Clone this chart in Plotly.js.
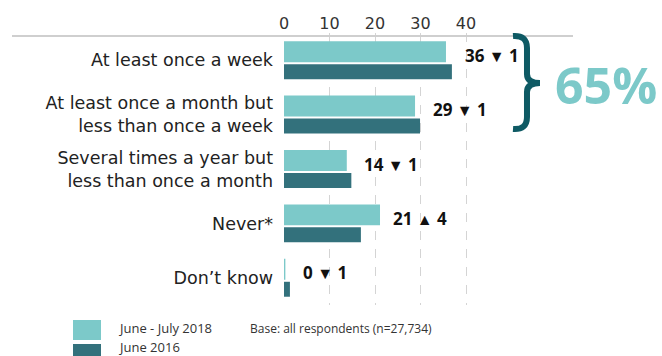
<!DOCTYPE html>
<html><head><meta charset="utf-8">
<script src="https://cdn.plot.ly/plotly-3.0.1.min.js"></script>
<style>html,body{margin:0;padding:0;background:#fff;}#chart{width:662px;height:356px;}</style>
</head><body><div id="chart"></div>
<script>
const categories = ["At least once a week", "At least once a month but<br>less than once a week", "Several times a year but<br>less than once a month", "Never*", "Don’t know"];
const values2018 = [35.6, 28.8, 13.8, 21.1, 0.3];
const values2016 = [36.9, 29.9, 14.8, 16.9, 1.3];
const labelValues = [36, 29, 14, 21, 0];
const changeDir = ["down", "down", "down", "up", "down"];
const changeValues = [1, 1, 1, 4, 1];
const tickValues = [0, 10, 20, 30, 40];
const seriesNames = ["June - July 2018", "June 2016"];
const baseNote = "Base: all respondents (n=27,734)";
const totalLabel = "65%";

const W = 662, H = 356;
const L = 284, R = 573, T = 33, B = 305;
const px = x => (x - L) / (R - L);
const py = y => (B - y) / (B - T);
const LIGHT = "#7cc9c9", DARK = "#33717c", BRACE = "#0e5a64";
const FONT = "Open Sans, sans-serif";
const CATFONT = "DejaVu Sans, sans-serif";

const traces = [
  {type: "bar", orientation: "h", name: seriesNames[0], y: categories, x: values2018,
   marker: {color: LIGHT}, width: categories.map(() => 0.385), offset: categories.map(() => -0.349),
   hoverinfo: "skip"},
  {type: "bar", orientation: "h", name: seriesNames[1], y: categories, x: values2016,
   marker: {color: DARK}, width: categories.map(() => 0.275), offset: categories.map(() => 0.073),
   hoverinfo: "skip"}
];

const annotations = categories.map((c, i) => ({
  x: Math.max(values2018[i], values2016[i]), y: c, xref: "x", yref: "y",
  xanchor: "left", yanchor: "middle", xshift: 11, yshift: 5, showarrow: false,
  text: "<b>" + labelValues[i] + " <span style='font-size:16px'>" + (changeDir[i] === "up" ? "▲" : "▼") + "</span> " + changeValues[i] + "</b>",
  font: {family: FONT, size: 17, color: "#111"}
}));
annotations.push({x: px(606), y: py(85), xref: "paper", yref: "paper", xanchor: "center", yanchor: "middle",
  showarrow: false, text: "<b>" + totalLabel + "</b>", font: {family: FONT, size: 50, color: LIGHT}});
annotations.push({x: px(116), y: py(328), xref: "paper", yref: "paper", xanchor: "left", yanchor: "middle",
  showarrow: false, text: seriesNames[0], font: {family: FONT, size: 13, color: "#333"}});
annotations.push({x: px(116), y: py(347), xref: "paper", yref: "paper", xanchor: "left", yanchor: "middle",
  showarrow: false, text: seriesNames[1], font: {family: FONT, size: 13, color: "#333"}});
annotations.push({x: px(248), y: py(328), xref: "paper", yref: "paper", xanchor: "left", yanchor: "middle",
  showarrow: false, text: baseNote, font: {family: FONT, size: 12, color: "#333"}});

const P = (x, y) => px(x).toFixed(4) + "," + py(y).toFixed(4);
const bracePath = "M" + P(513, 36) + " Q" + P(527, 35) + " " + P(527, 48) +
  " L" + P(527, 74) + " Q" + P(527, 83) + " " + P(540, 83) +
  " Q" + P(527, 83) + " " + P(527, 92) +
  " L" + P(527, 117) + " Q" + P(527, 130) + " " + P(513, 129);

const shapes = [
  {type: "line", xref: "paper", yref: "paper", x0: px(12), x1: px(573), y0: py(36), y1: py(36),
   line: {color: "#cfcfcf", width: 2}},
  {type: "path", xref: "paper", yref: "paper", path: bracePath, line: {color: BRACE, width: 6}},
  {type: "rect", xref: "paper", yref: "paper", x0: px(73), x1: px(101), y0: py(320), y1: py(340),
   fillcolor: LIGHT, line: {width: 0}},
  {type: "rect", xref: "paper", yref: "paper", x0: px(73), x1: px(101), y0: py(344), y1: py(362),
   fillcolor: DARK, line: {width: 0}}
];

const layout = {
  width: W, height: H, margin: {l: L, r: W - R, t: T, b: H - B, pad: 0},
  paper_bgcolor: "#fff", plot_bgcolor: "#fff", showlegend: false, barmode: "overlay",
  font: {family: FONT, color: "#222"},
  xaxis: {range: [0, (R - L) / 4.55], side: "top", tickvals: tickValues, ticktext: tickValues.map(String),
    showgrid: true, gridcolor: "#d4d4d4", griddash: "dash", gridwidth: 1, zeroline: false,
    showline: false, ticks: "", tickfont: {family: CATFONT, size: 16, color: "#333"}},
  yaxis: {type: "category", range: [4.5, -0.5], showgrid: false, zeroline: false, showline: false,
    ticks: "", ticklabelstandoff: 10, tickfont: {family: CATFONT, size: 17.5, color: "#222"}},
  annotations: annotations, shapes: shapes
};

Plotly.newPlot("chart", traces, layout, {staticPlot: true});
</script></body></html>
